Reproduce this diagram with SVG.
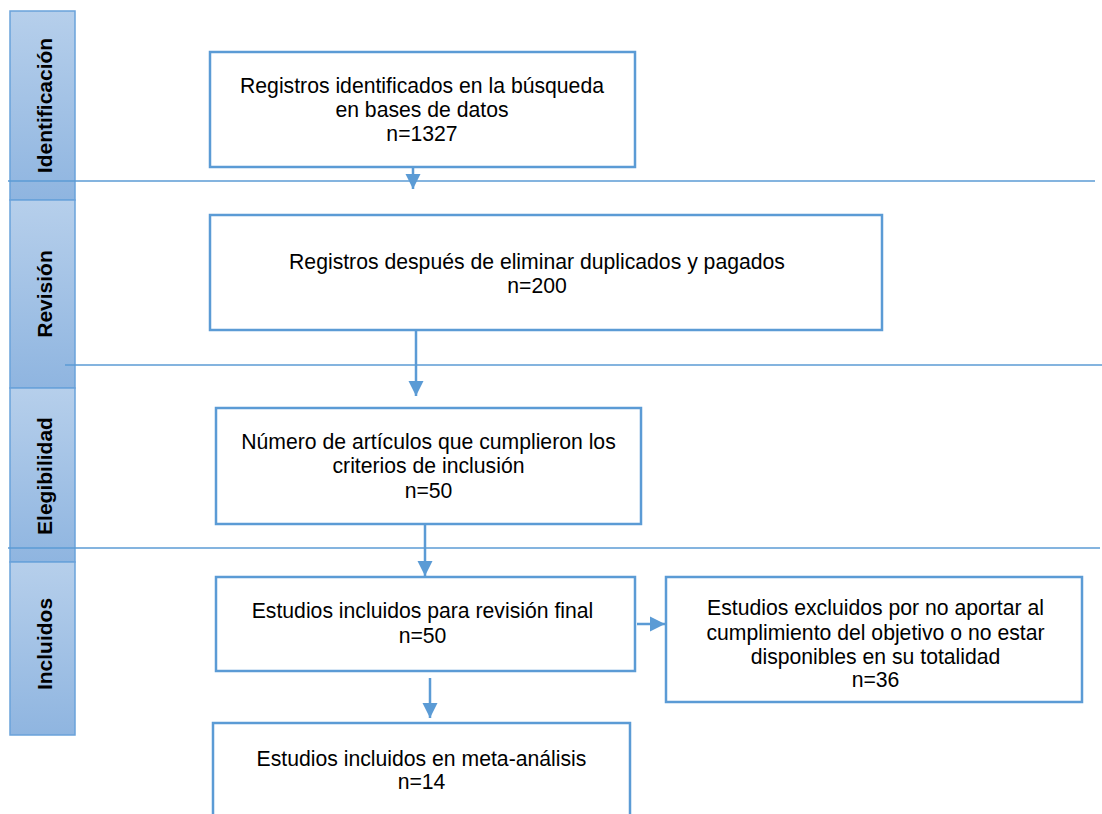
<svg xmlns="http://www.w3.org/2000/svg" width="1102" height="814" viewBox="0 0 1102 814">
<defs>
<linearGradient id="barGrad" x1="0" y1="0" x2="0" y2="1">
<stop offset="0" stop-color="#b6cfeb"/>
<stop offset="1" stop-color="#8fb5e0"/>
</linearGradient>
<marker id="arr" markerUnits="userSpaceOnUse" markerWidth="16" markerHeight="17" viewBox="0 0 16 17" refX="15" refY="8.5" orient="auto">
<path d="M0,1 L15,8.5 L0,16 Z" fill="#5b9bd5"/>
</marker>
</defs>
<style>
.bar{fill:url(#barGrad);stroke:#6aa2da;stroke-width:1.5}
.lab{font-family:"Liberation Sans",Arial,sans-serif;font-weight:bold;font-size:21px;fill:#000;text-anchor:middle}
.box{fill:#fff;stroke:#5b9bd5;stroke-width:2.5}
.t{font-family:"Liberation Sans",Arial,sans-serif;font-size:21.2px;fill:#000;text-anchor:middle}
.sep{stroke:#5b9bd5;stroke-width:1.5;fill:none}
.con{stroke:#5b9bd5;stroke-width:2.5;fill:none;marker-end:url(#arr)}
</style>
<rect width="1102" height="814" fill="#fff"/>
<g id="phases">
<g id="phase-identificacion"><rect class="bar" x="10" y="11" width="65" height="189"/><text class="lab" transform="translate(52,105.5) rotate(-90)">Identificación</text></g>
<g id="phase-revision"><rect class="bar" x="10" y="200" width="65" height="188"/><text class="lab" transform="translate(52,294) rotate(-90)">Revisión</text></g>
<g id="phase-elegibilidad"><rect class="bar" x="10" y="388" width="65" height="174"/><text class="lab" transform="translate(52,476) rotate(-90)">Elegibilidad</text></g>
<g id="phase-incluidos"><rect class="bar" x="10" y="562" width="65" height="173"/><text class="lab" transform="translate(52,644) rotate(-90)">Incluidos</text></g>
</g>
<g id="separators">
<line class="sep" x1="8" y1="181" x2="1095" y2="181"/>
<line class="sep" x1="65" y1="365" x2="1102" y2="365"/>
<line class="sep" x1="8" y1="548" x2="1100" y2="548"/>
</g>
<g id="n1"><rect class="box" x="210" y="52" width="425" height="115"/>
<text class="t" x="422" y="93">Registros identificados en la búsqueda</text>
<text class="t" x="422" y="117">en bases de datos</text>
<text class="t" x="422" y="141">n=1327</text></g>
<g id="n2"><rect class="box" x="210" y="215" width="672" height="115"/>
<text class="t" x="537" y="269">Registros después de eliminar duplicados y pagados</text>
<text class="t" x="537" y="293">n=200</text></g>
<g id="n3"><rect class="box" x="216" y="408" width="425" height="116"/>
<text class="t" x="428.5" y="449">Número de artículos que cumplieron los</text>
<text class="t" x="428.5" y="473">criterios de inclusión</text>
<text class="t" x="428.5" y="498">n=50</text></g>
<g id="n4"><rect class="box" x="216" y="577" width="419" height="94"/>
<text class="t" x="422.5" y="618">Estudios incluidos para revisión final</text>
<text class="t" x="422.5" y="643">n=50</text></g>
<g id="n5"><rect class="box" x="666" y="577" width="416" height="125"/>
<text class="t" x="875.5" y="615">Estudios excluidos por no aportar al</text>
<text class="t" x="875.5" y="640">cumplimiento del objetivo o no estar</text>
<text class="t" x="875.5" y="664">disponibles en su totalidad</text>
<text class="t" x="875.5" y="687">n=36</text></g>
<g id="n6"><rect class="box" x="213" y="723" width="417" height="100"/>
<text class="t" x="421.5" y="766">Estudios incluidos en meta-análisis</text>
<text class="t" x="421.5" y="789">n=14</text></g>
<g id="connectors">
<line class="con" x1="413" y1="167" x2="413" y2="189"/>
<line class="con" x1="416" y1="330" x2="416" y2="396"/>
<line class="con" x1="425" y1="524" x2="425" y2="576"/>
<line class="con" x1="430" y1="678" x2="430" y2="718"/>
<line class="con" x1="637" y1="624" x2="665" y2="624"/>
</g>
</svg>
